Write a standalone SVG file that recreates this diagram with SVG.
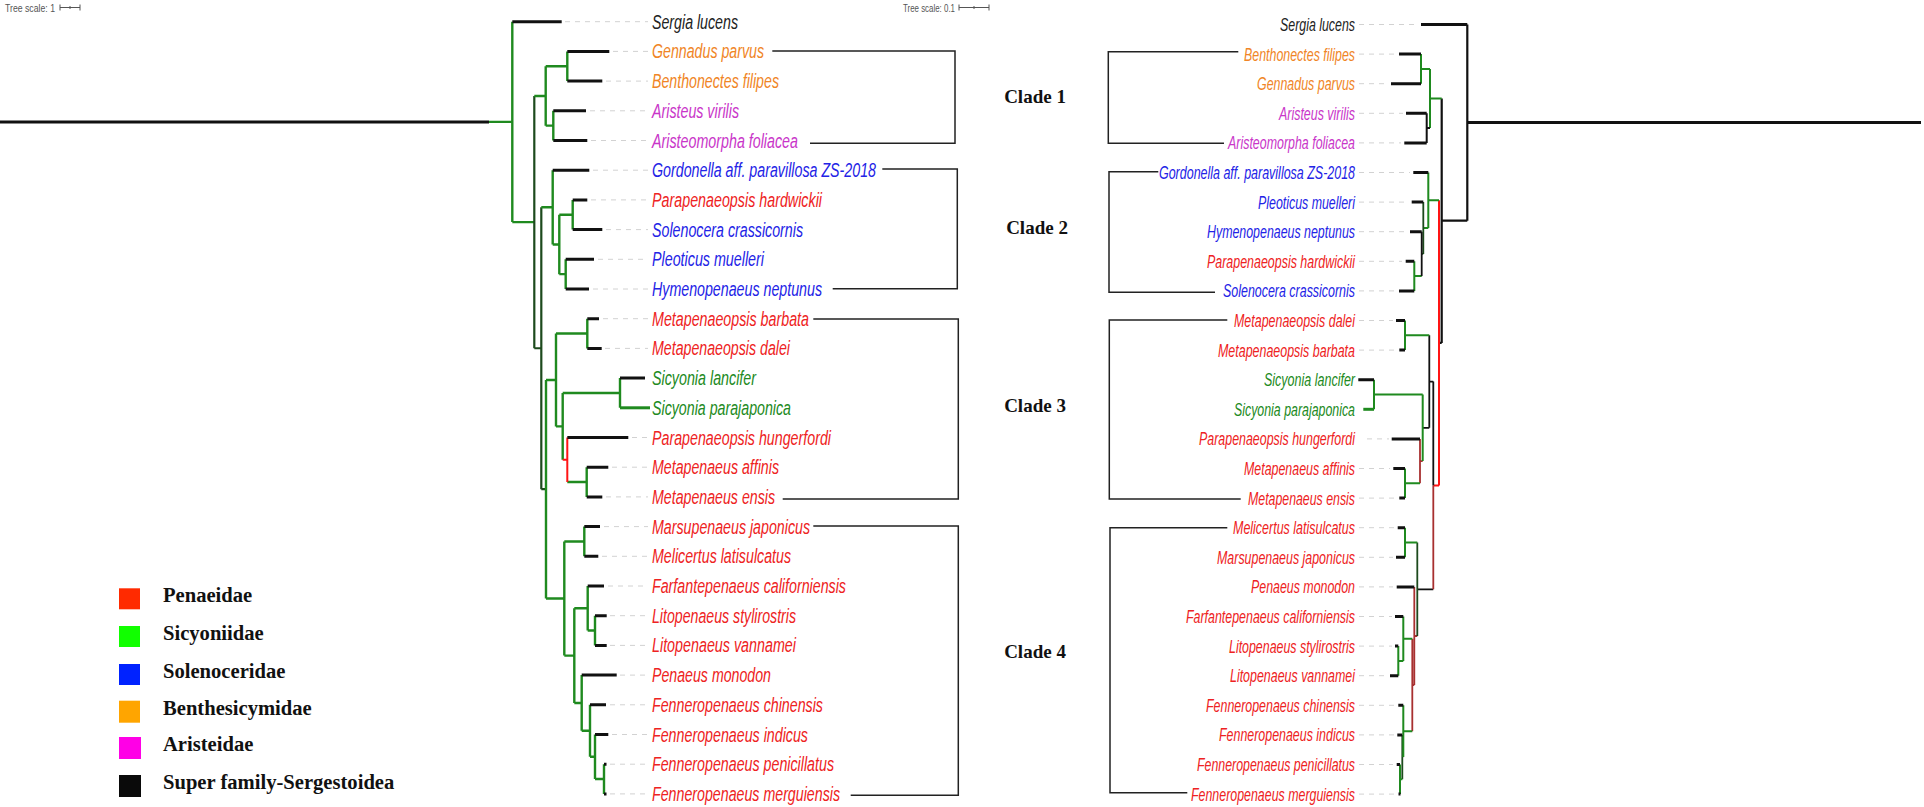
<svg xmlns="http://www.w3.org/2000/svg" width="1924" height="807" viewBox="0 0 1924 807">
<style>
.t{fill:none;stroke:#111;stroke-width:3}
.g{fill:none;stroke:#1f8a1f;stroke-width:2.4}
.dg{fill:none;stroke:#1d4a1d;stroke-width:2.2}
.k{fill:none;stroke:#111;stroke-width:2}
.r{fill:none;stroke:#ff1414;stroke-width:2}
.dr{fill:none;stroke:#a83030;stroke-width:2}
.ld{fill:none;stroke:#d2d2d2;stroke-width:1;stroke-dasharray:5 5}
.br{fill:none;stroke:#222;stroke-width:1.5}
.sp{font-family:"Liberation Sans",Arial,sans-serif;font-style:italic;font-size:19.5px}
.spr{font-family:"Liberation Sans",Arial,sans-serif;font-style:italic;font-size:18.5px;text-anchor:end}
.cl{font-family:"Liberation Serif","Times New Roman",serif;font-weight:bold;font-size:19px;fill:#111;text-anchor:middle}
.lg{font-family:"Liberation Serif","Times New Roman",serif;font-weight:bold;font-size:20.6px;fill:#111}
.ts{font-family:"Liberation Sans",Arial,sans-serif;font-size:11px;fill:#555}
.ob{fill:#f08526}.mg{fill:#c936c9}.bl{fill:#2323e6}.rd{fill:#ee2222}.gr{fill:#228a22}.bk{fill:#222}
</style>
<rect width="1924" height="807" fill="#fff"/>

<g id="scale-left">
<text class="ts" x="5" y="11.5" textLength="50" lengthAdjust="spacingAndGlyphs">Tree scale: 1</text>
<path d="M60,7.5H80M60,4.5V10.5M80,4.5V10.5M70,6V9" fill="none" stroke="#555" stroke-width="1"/>
</g>
<g id="scale-right">
<text class="ts" x="903" y="11.5" textLength="52" lengthAdjust="spacingAndGlyphs">Tree scale: 0.1</text>
<path d="M959,7.5H989M959,4.5V10.5M989,4.5V10.5M974,6V9" fill="none" stroke="#555" stroke-width="1"/>
</g>

<g id="left-tree-connectors">
<path class="t" d="M0,121.9H489"/>
<path class="g" d="M489,121.9H512.3M512.3,21.7V222.1M512.3,222.1H534.3"/>
<path class="dg" d="M534.3,95.95V348.25M534.3,348.25H541.3M541.3,207.3V489.2M541.3,489.2H546"/>
<path class="g" d="M534.3,95.95H545.7M545.7,66.25V125.65M545.7,66.25H567.3M567.3,51.4V81.1M545.7,125.65H553.3M553.3,110.8V140.5"/>
<path class="g" d="M541.3,207.3H552.7M552.7,170.2V244.45M552.7,244.45H559.3M559.3,214.75V274.15M559.3,214.75H572.7M572.7,199.9V229.6M559.3,274.15H565.7M565.7,259.3V289"/>
<path class="g" d="M546,379.95V598.5M546,379.95H556M556,333.55V426.4M556,333.55H587.3M587.3,318.7V348.4M556,426.4H562.7M562.7,392.95V459.8M562.7,392.95H620M620,378.1V407.8M567.3,482.05H586.7M586.7,467.2V496.9"/>
<path class="g" d="M620,407.8H650" style="stroke-width:3"/>
<path class="r" d="M562.7,459.8H567.3M567.3,437.5V482.05"/>
<path class="g" d="M546,598.5H564.3M564.3,541.45V655.6M564.3,541.45H584.3M584.3,526.6V556.3M564.3,655.6H574.3M574.3,608.3V702.95M574.3,608.3H587.7M587.7,586V630.55M587.7,630.55H595M595,615.7V645.4M574.3,702.95H581.7M581.7,675.1V730.8M581.7,730.8H590M590,704.8V756.8M590,756.8H595M595,734.5V779.05M595,779.05H604M604,764.2V793.9"/>
<path class="t" d="M512.3,21.7H561.7M567.3,51.4H609.3M567.3,81.1H602.3M553.3,110.8H586M553.3,140.5H587.3M552.7,170.2H589.3M572.7,199.9H587.3M572.7,229.6H602.3M565.7,259.3H594M565.7,289H589M587.3,318.7H599M587.3,348.4H601.7M620,378.1H645M567.3,437.5H628.3M586.7,467.2H608.3M586.7,496.9H602.3M584.3,526.6H600M584.3,556.3H598.3M587.7,586H604M595,615.7H606.7M595,645.4H606.7M581.7,675.1H616.7M590,704.8H606M595,734.5H608.3M604,764.2H606.5M604,793.9H606.5"/>
<path class="ld" d="M565,21.7H648M613,51.4H648M606,81.1H648M590,110.8H648M591,140.5H648M593,170.2H648M591,199.9H648M606,229.6H648M598,259.3H648M593,289H648M603,318.7H648M605,348.4H648M632,437.5H648M612,467.2H648M606,496.9H648M604,526.6H648M602,556.3H648M608,586H648M610,615.7H648M610,645.4H648M620,675.1H648M610,704.8H648M612,734.5H648M610,764.2H648M610,793.9H648"/>
</g>

<g id="left-labels">
<text class="sp bk" x="652" y="28.7" textLength="86" lengthAdjust="spacingAndGlyphs">Sergia lucens</text>
<text class="sp ob" x="652" y="58.4" textLength="112" lengthAdjust="spacingAndGlyphs">Gennadus parvus</text>
<text class="sp ob" x="652" y="88.1" textLength="127" lengthAdjust="spacingAndGlyphs">Benthonectes filipes</text>
<text class="sp mg" x="652" y="117.8" textLength="87" lengthAdjust="spacingAndGlyphs">Aristeus virilis</text>
<text class="sp mg" x="652" y="147.5" textLength="146" lengthAdjust="spacingAndGlyphs">Aristeomorpha foliacea</text>
<text class="sp bl" x="652" y="177.2" textLength="224" lengthAdjust="spacingAndGlyphs">Gordonella aff. paravillosa ZS-2018</text>
<text class="sp rd" x="652" y="206.9" textLength="170" lengthAdjust="spacingAndGlyphs">Parapenaeopsis hardwickii</text>
<text class="sp bl" x="652" y="236.6" textLength="151" lengthAdjust="spacingAndGlyphs">Solenocera crassicornis</text>
<text class="sp bl" x="652" y="266.3" textLength="112" lengthAdjust="spacingAndGlyphs">Pleoticus muelleri</text>
<text class="sp bl" x="652" y="296" textLength="170" lengthAdjust="spacingAndGlyphs">Hymenopenaeus neptunus</text>
<text class="sp rd" x="652" y="325.7" textLength="157" lengthAdjust="spacingAndGlyphs">Metapenaeopsis barbata</text>
<text class="sp rd" x="652" y="355.4" textLength="138" lengthAdjust="spacingAndGlyphs">Metapenaeopsis dalei</text>
<text class="sp gr" x="652" y="385.1" textLength="104" lengthAdjust="spacingAndGlyphs">Sicyonia lancifer</text>
<text class="sp gr" x="652" y="414.8" textLength="139" lengthAdjust="spacingAndGlyphs">Sicyonia parajaponica</text>
<text class="sp rd" x="652" y="444.5" textLength="179" lengthAdjust="spacingAndGlyphs">Parapenaeopsis hungerfordi</text>
<text class="sp rd" x="652" y="474.2" textLength="127" lengthAdjust="spacingAndGlyphs">Metapenaeus affinis</text>
<text class="sp rd" x="652" y="503.9" textLength="123" lengthAdjust="spacingAndGlyphs">Metapenaeus ensis</text>
<text class="sp rd" x="652" y="533.6" textLength="158" lengthAdjust="spacingAndGlyphs">Marsupenaeus japonicus</text>
<text class="sp rd" x="652" y="563.3" textLength="139" lengthAdjust="spacingAndGlyphs">Melicertus latisulcatus</text>
<text class="sp rd" x="652" y="593" textLength="194" lengthAdjust="spacingAndGlyphs">Farfantepenaeus californiensis</text>
<text class="sp rd" x="652" y="622.7" textLength="144" lengthAdjust="spacingAndGlyphs">Litopenaeus stylirostris</text>
<text class="sp rd" x="652" y="652.4" textLength="144" lengthAdjust="spacingAndGlyphs">Litopenaeus vannamei</text>
<text class="sp rd" x="652" y="682.1" textLength="119" lengthAdjust="spacingAndGlyphs">Penaeus monodon</text>
<text class="sp rd" x="652" y="711.8" textLength="171" lengthAdjust="spacingAndGlyphs">Fenneropenaeus chinensis</text>
<text class="sp rd" x="652" y="741.5" textLength="156" lengthAdjust="spacingAndGlyphs">Fenneropenaeus indicus</text>
<text class="sp rd" x="652" y="771.2" textLength="182" lengthAdjust="spacingAndGlyphs">Fenneropenaeus penicillatus</text>
<text class="sp rd" x="652" y="800.9" textLength="188" lengthAdjust="spacingAndGlyphs">Fenneropenaeus merguiensis</text>
</g>

<g id="left-clade-brackets">
<path class="br" d="M772.3,51H955V143.3H810"/>
<path class="br" d="M882.3,169H957.3V288.7H832.7"/>
<path class="br" d="M813.3,319H958.3V499H782.7"/>
<path class="br" d="M813.3,526H958.3V795.3H850.7"/>
</g>

<g id="clade-labels">
<text class="cl" x="1035" y="103">Clade 1</text>
<text class="cl" x="1037" y="234">Clade 2</text>
<text class="cl" x="1035" y="412">Clade 3</text>
<text class="cl" x="1035" y="658">Clade 4</text>
</g>

<g id="right-clade-brackets">
<path class="br" d="M1238.3,51.7H1108.3V143.3H1224"/>
<path class="br" d="M1158.3,171.7H1109V292.3H1215"/>
<path class="br" d="M1227.3,320H1109.3V499H1240.7"/>
<path class="br" d="M1227.3,527.7H1110V792.7H1187.3"/>
</g>

<g id="right-tree-connectors">
<path class="t" d="M1467.3,122.6H1921"/>
<path class="k" d="M1467.3,24.5V220.7M1441.7,220.7H1467.3M1441.7,98.5V342.9M1439,342.9H1441.7" style="stroke-width:2.2"/>
<path class="g" d="M1430,98.5H1441.7M1430,68.9V128.1M1421,68.9H1430M1421,54.1V83.7" style="stroke-width:2"/>
<path class="k" d="M1426.7,128.1H1430M1426.7,113.3V142.9"/>
<path class="r" d="M1439,200.3V485.5M1433.3,485.5H1439"/>
<path class="g" d="M1428.3,200.3H1439M1428.3,172.5V228M1423.3,228H1428.3M1414.3,276.1H1421.7M1414.3,261.3V290.9" style="stroke-width:2"/>
<path class="dg" d="M1423.3,202.1V253.9M1421.7,253.9H1423.3" style="stroke-width:1.8"/>
<path class="k" d="M1421.7,231.7V276.1" style="stroke-width:1.8"/>
<path class="k" d="M1433.3,381.6V485.5M1429.3,381.6H1433.3M1429.3,335.3V427.8M1422.7,427.8H1429.3M1417.3,589.3H1433.3" style="stroke-width:1.8"/>
<path class="dr" d="M1433.3,485.5V589.3M1420,461.1H1422.7M1420,438.9V483.3M1414.3,636H1417.3M1414.3,586.9V685M1412.3,685H1414.3M1412.3,638.7V731.2" style="stroke-width:1.8"/>
<path class="dg" d="M1417.3,542.5V636M1402.3,757.1H1403.3M1402.3,734.9V779.3" style="stroke-width:1.8"/>
<path class="g" d="M1405,335.3H1429.3M1405,320.5V350.1M1422.7,394.5V461.1M1374,394.5H1422.7M1374,379.7V409.3M1405,483.3H1420M1405,468.5V498.1M1405,542.5H1417.3M1405,527.7V557.3M1403.3,638.7H1412.3M1403.3,616.5V660.9M1398.3,660.9H1403.3M1398.3,646.1V675.7M1403.3,731.2H1412.3M1403.3,705.3V757.1M1400,779.3H1402.3M1400,764.5V794.1" style="stroke-width:2"/>
<path class="g" d="M1363.3,409.3H1374" style="stroke-width:3"/>
<path class="t" d="M1421,24.5H1467.3M1399,54.1H1421M1391,83.7H1421M1406,113.3H1426.7M1404.3,142.9H1426.7M1413.3,172.5H1428.3M1411.7,202.1H1423.3M1410,231.7H1421.7M1405.7,261.3H1414.3M1399,290.9H1414.3M1396,320.5H1405M1399.3,350.1H1405M1358.3,379.7H1374M1391.7,438.9H1420M1393.3,468.5H1405M1399.3,498.1H1405M1397.7,527.7H1405M1396,557.3H1405M1396.7,586.9H1414.3M1395,616.5H1403.3M1395,646.1H1398.3M1390,675.7H1398.3M1398.3,705.3H1403.3M1397.3,734.9H1402.3M1396.7,764.5H1400M1398.5,794.1H1400.5"/>
<path class="ld" d="M1359,24.5H1418M1359,54.1H1396M1359,83.7H1388M1359,113.3H1403M1359,142.9H1401M1359,172.5H1410M1359,202.1H1408M1359,231.7H1407M1359,261.3H1402M1359,290.9H1396M1359,320.5H1393M1359,350.1H1396M1367,438.9H1389M1359,468.5H1390M1359,498.1H1396M1359,527.7H1394M1359,557.3H1393M1359,586.9H1393M1359,616.5H1392M1359,646.1H1392M1359,675.7H1387M1359,705.3H1395M1359,734.9H1394M1359,764.5H1393M1359,794.1H1396"/>
</g>

<g id="right-labels">
<text class="spr bk" x="1355" y="31" textLength="75" lengthAdjust="spacingAndGlyphs">Sergia lucens</text>
<text class="spr ob" x="1355" y="60.6" textLength="111" lengthAdjust="spacingAndGlyphs">Benthonectes filipes</text>
<text class="spr ob" x="1355" y="90.2" textLength="98" lengthAdjust="spacingAndGlyphs">Gennadus parvus</text>
<text class="spr mg" x="1355" y="119.8" textLength="76" lengthAdjust="spacingAndGlyphs">Aristeus virilis</text>
<text class="spr mg" x="1355" y="149.4" textLength="127" lengthAdjust="spacingAndGlyphs">Aristeomorpha foliacea</text>
<text class="spr bl" x="1355" y="179" textLength="196" lengthAdjust="spacingAndGlyphs">Gordonella aff. paravillosa ZS-2018</text>
<text class="spr bl" x="1355" y="208.6" textLength="97" lengthAdjust="spacingAndGlyphs">Pleoticus muelleri</text>
<text class="spr bl" x="1355" y="238.2" textLength="148" lengthAdjust="spacingAndGlyphs">Hymenopenaeus neptunus</text>
<text class="spr rd" x="1355" y="267.8" textLength="148" lengthAdjust="spacingAndGlyphs">Parapenaeopsis hardwickii</text>
<text class="spr bl" x="1355" y="297.4" textLength="132" lengthAdjust="spacingAndGlyphs">Solenocera crassicornis</text>
<text class="spr rd" x="1355" y="327" textLength="121" lengthAdjust="spacingAndGlyphs">Metapenaeopsis dalei</text>
<text class="spr rd" x="1355" y="356.6" textLength="137" lengthAdjust="spacingAndGlyphs">Metapenaeopsis barbata</text>
<text class="spr gr" x="1355" y="386.2" textLength="91" lengthAdjust="spacingAndGlyphs">Sicyonia lancifer</text>
<text class="spr gr" x="1355" y="415.8" textLength="121" lengthAdjust="spacingAndGlyphs">Sicyonia parajaponica</text>
<text class="spr rd" x="1355" y="445.4" textLength="156" lengthAdjust="spacingAndGlyphs">Parapenaeopsis hungerfordi</text>
<text class="spr rd" x="1355" y="475" textLength="111" lengthAdjust="spacingAndGlyphs">Metapenaeus affinis</text>
<text class="spr rd" x="1355" y="504.6" textLength="107" lengthAdjust="spacingAndGlyphs">Metapenaeus ensis</text>
<text class="spr rd" x="1355" y="534.2" textLength="122" lengthAdjust="spacingAndGlyphs">Melicertus latisulcatus</text>
<text class="spr rd" x="1355" y="563.8" textLength="138" lengthAdjust="spacingAndGlyphs">Marsupenaeus japonicus</text>
<text class="spr rd" x="1355" y="593.4" textLength="104" lengthAdjust="spacingAndGlyphs">Penaeus monodon</text>
<text class="spr rd" x="1355" y="623" textLength="169" lengthAdjust="spacingAndGlyphs">Farfantepenaeus californiensis</text>
<text class="spr rd" x="1355" y="652.6" textLength="126" lengthAdjust="spacingAndGlyphs">Litopenaeus stylirostris</text>
<text class="spr rd" x="1355" y="682.2" textLength="125" lengthAdjust="spacingAndGlyphs">Litopenaeus vannamei</text>
<text class="spr rd" x="1355" y="711.8" textLength="149" lengthAdjust="spacingAndGlyphs">Fenneropenaeus chinensis</text>
<text class="spr rd" x="1355" y="741.4" textLength="136" lengthAdjust="spacingAndGlyphs">Fenneropenaeus indicus</text>
<text class="spr rd" x="1355" y="771" textLength="158" lengthAdjust="spacingAndGlyphs">Fenneropenaeus penicillatus</text>
<text class="spr rd" x="1355" y="800.6" textLength="164" lengthAdjust="spacingAndGlyphs">Fenneropenaeus merguiensis</text>
</g>

<g id="legend">
<g id="legend-penaeidae"><rect x="119" y="588.3" width="21" height="21" fill="#ff2a00"/><text class="lg" x="163" y="602">Penaeidae</text></g>
<g id="legend-sicyoniidae"><rect x="119" y="626" width="21" height="21" fill="#11ff00"/><text class="lg" x="163" y="639.5">Sicyoniidae</text></g>
<g id="legend-solenoceridae"><rect x="119" y="664" width="21" height="21" fill="#0022ff"/><text class="lg" x="163" y="677.5">Solenoceridae</text></g>
<g id="legend-benthesicymidae"><rect x="119" y="700.7" width="21" height="22" fill="#ffa500"/><text class="lg" x="163" y="714.5">Benthesicymidae</text></g>
<g id="legend-aristeidae"><rect x="119" y="737" width="22" height="22" fill="#ff00e6"/><text class="lg" x="163" y="751">Aristeidae</text></g>
<g id="legend-sergestoidea"><rect x="119" y="775" width="22" height="22" fill="#0a0a0a"/><text class="lg" x="163" y="788.5">Super family-Sergestoidea</text></g>
</g>
</svg>
